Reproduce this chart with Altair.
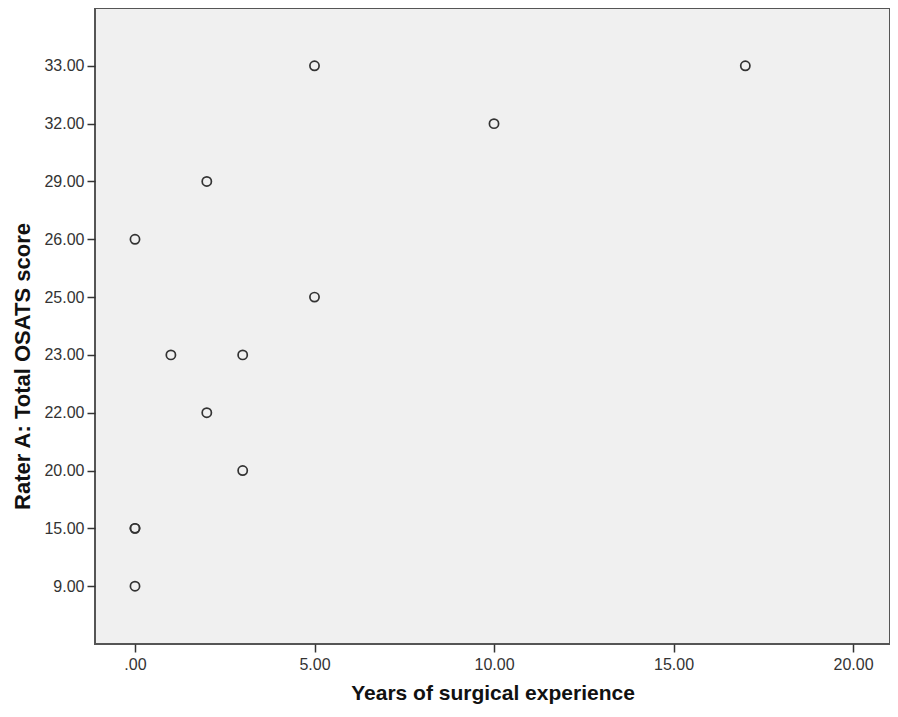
import altair as alt
import pandas as pd

years = [5, 17, 10, 2, 0, 5, 1, 3, 2, 3, 0, 0, 0]
scores = [33, 33, 32, 29, 26, 25, 23, 23, 22, 20, 15, 15, 9]
score_levels = [33, 32, 29, 26, 25, 23, 22, 20, 15, 9]
x_ticks = [0, 5, 10, 15, 20]

df = pd.DataFrame({"years": years, "score": scores})

chart = (
    alt.Chart(df)
    .mark_point(shape="circle", filled=False, size=85, stroke="#333333", strokeWidth=1.7, opacity=1)
    .encode(
        x=alt.X(
            "years:Q",
            scale=alt.Scale(domain=[-1.114, 21.03], nice=False, zero=False),
            axis=alt.Axis(
                values=x_ticks,
                title="Years of surgical experience",
                labelExpr="datum.value == 0 ? '.00' : format(datum.value, '.2f')",
                grid=False,
                domain=False,
                tickSize=8,
                tickColor="#333333",
                tickWidth=1.5,
                labelFont="Liberation Sans",
                labelFontSize=16,
                labelColor="#333333",
                labelPadding=4,
                titleFont="Liberation Sans",
                titleFontSize=21,
                titleFontWeight="bold",
                titleColor="#111111",
                titleY=49,
                titleBaseline="middle",
            ),
        ),
        y=alt.Y(
            "score:O",
            sort=score_levels,
            scale=alt.Scale(domain=score_levels, padding=1.04),
            axis=alt.Axis(
                title="Rater A: Total OSATS score",
                labelExpr="format(datum.value, '.2f')",
                grid=False,
                domain=False,
                tickSize=8,
                tickColor="#333333",
                tickWidth=1.5,
                labelFont="Liberation Sans",
                labelFontSize=16,
                labelColor="#333333",
                labelPadding=3,
                titleFont="Liberation Sans",
                titleFontSize=22,
                titleFontWeight="bold",
                titleColor="#111111",
                titleX=-73,
                titleY=358,
                titleBaseline="middle",
            ),
        ),
    )
    .properties(
        width=795,
        height=636,
        autosize=alt.AutoSizeParams(type="none"),
        padding={"left": 87, "top": 0, "right": 0, "bottom": 63},
        background="white",
    )
    .configure_view(fill="#f0f0f0", stroke="#555555", strokeWidth=2)
)

chart.save("out.html", embed_options={"renderer": "svg", "actions": False})
